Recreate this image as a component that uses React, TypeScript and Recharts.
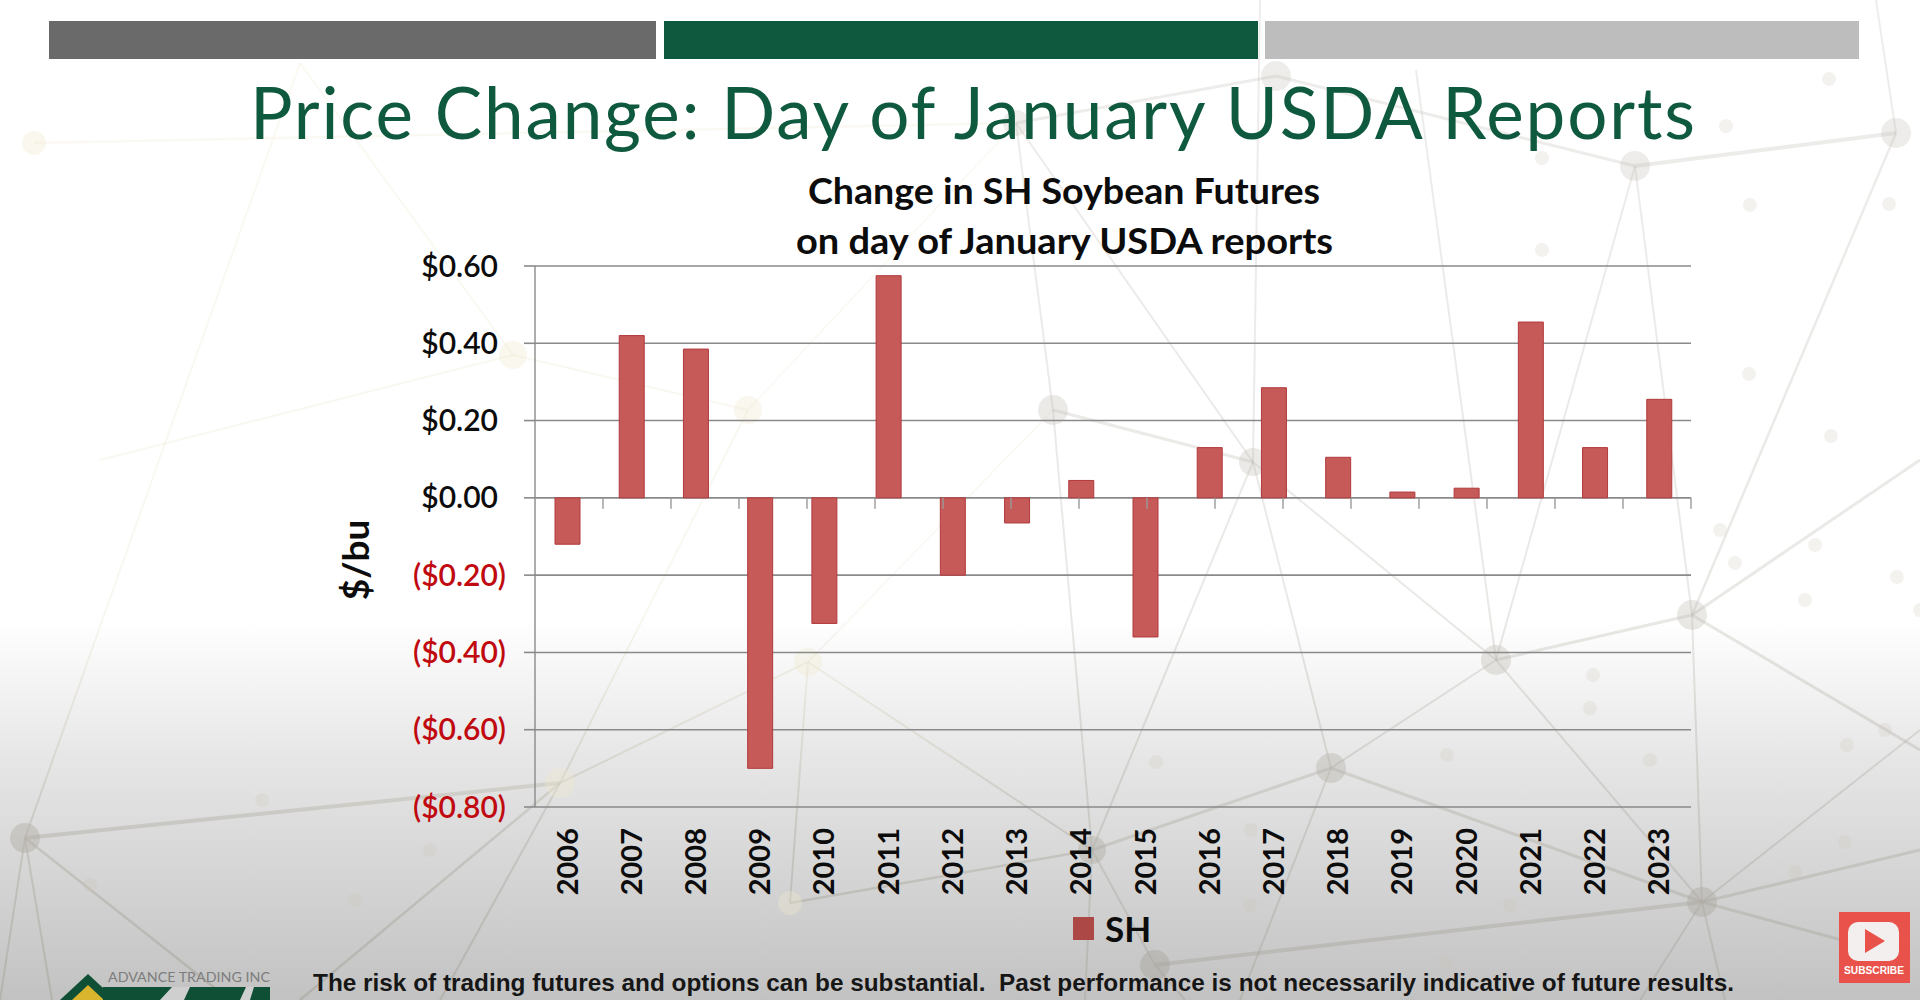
import { BarChart, Bar, XAxis, YAxis, CartesianGrid, Legend, ReferenceLine } from 'recharts';

const years = ['2006', '2007', '2008', '2009', '2010', '2011', '2012', '2013', '2014', '2015', '2016', '2017', '2018', '2019', '2020', '2021', '2022', '2023'];
const priceChange = [-0.12, 0.42, 0.385, -0.7, -0.325, 0.575, -0.2, -0.065, 0.045, -0.36, 0.13, 0.285, 0.105, 0.015, 0.025, 0.455, 0.13, 0.255];
const yTicks = [0.6, 0.4, 0.2, 0, -0.2, -0.4, -0.6, -0.8];
const categoryEdges = [1, 2, 3, 4, 5, 6, 7, 8, 9, 10, 11, 12, 13, 14, 15, 16, 17, 18];

const data = years.map((year, i) => ({ year, SH: priceChange[i] }));

// backdrop network: [x, y, radius]
const nodes = [
  [1635, 166, 15], [1896, 133, 15], [1276, 76, 15], [1016, 123, 13], [1053, 410, 15], [1253, 462, 14],
  [1692, 615, 15], [1496, 660, 15], [1331, 768, 15], [1702, 902, 15], [1155, 965, 15], [1092, 850, 14],
  [25, 838, 15],
];
const paleNodes = [
  [560, 783, 15], [808, 662, 14], [748, 410, 14], [513, 355, 14], [34, 143, 12], [790, 903, 12],
];
const edges = [
  [1635, 166, 1896, 133, 4], [1635, 166, 1496, 660, 2], [1635, 166, 1692, 615, 2], [1896, 133, 1692, 615, 2.5],
  [1896, 133, 1876, 0, 2], [1635, 166, 1276, 76, 3], [1276, 76, 1016, 123, 3], [1016, 123, 1053, 410, 2],
  [1016, 123, 1253, 462, 2], [1016, 123, 748, 410, 1.5], [1053, 410, 1253, 462, 3], [1053, 410, 808, 662, 1.5],
  [1053, 410, 1092, 850, 2], [1253, 462, 1331, 768, 2], [1253, 462, 1496, 660, 2], [1260, 0, 1253, 462, 2],
  [1253, 462, 1092, 850, 2], [1496, 660, 1692, 615, 3], [1496, 660, 1331, 768, 2], [1496, 660, 1702, 902, 2],
  [1416, 70, 1496, 660, 2], [1692, 615, 1702, 902, 2], [1692, 615, 1920, 750, 3], [1692, 615, 1920, 460, 3],
  [1702, 902, 1331, 768, 3], [1702, 902, 1155, 965, 4], [1702, 902, 1920, 730, 2], [1702, 902, 1920, 850, 3],
  [1702, 902, 1860, 945, 3], [1702, 902, 1640, 1000, 2], [1702, 902, 1725, 1000, 2], [1331, 768, 1092, 850, 3],
  [1331, 768, 1240, 1000, 2], [1092, 850, 1155, 965, 2], [1092, 850, 808, 662, 2], [1092, 850, 790, 903, 2.5],
  [1092, 850, 1085, 1000, 2], [1155, 965, 1185, 1000, 2], [25, 838, 560, 783, 4], [25, 838, 230, 1000, 2.5],
  [25, 838, 0, 1000, 2], [25, 838, 52, 1000, 2], [25, 838, 300, 63, 2], [560, 783, 808, 662, 2],
  [560, 783, 748, 410, 2], [560, 783, 300, 1000, 2.5], [560, 783, 440, 1000, 2], [513, 355, 748, 410, 2],
  [513, 355, 300, 63, 2], [34, 143, 1016, 123, 2.5], [513, 355, 100, 460, 2], [808, 662, 790, 903, 2],
];
const dots = [
  [1829, 79], [1726, 126], [1750, 205], [1889, 204], [1542, 250], [1542, 158], [1749, 374], [1831, 436],
  [1815, 545], [1735, 563], [1805, 600], [1897, 577], [1920, 610], [1885, 730], [1847, 745], [1593, 675],
  [1447, 755], [1251, 830], [1156, 762], [1446, 962], [1507, 1000], [1795, 872], [1650, 760], [1590, 708],
  [1250, 905], [1510, 905], [90, 885], [262, 800], [355, 900], [430, 850], [1845, 842], [1720, 530],
];

const fontBody = 'Lato, "Noto Sans", sans-serif';

function formatPrice(value: number) {
  const text = '$' + Math.abs(value).toFixed(2);
  return value < 0 ? '(' + text + ')' : text;
}

function PriceTick({ x, y, payload }: any) {
  const negative = payload.value < 0;
  return (
    <text
      x={x + (negative ? -16 : -24)}
      y={y}
      dy="0.35em"
      textAnchor="end"
      fontFamily={fontBody}
      fontSize={30}
      fontWeight={600}
      fill={negative ? '#c00a10' : '#0c0c0c'}
    >
      {formatPrice(payload.value)}
    </text>
  );
}

function YearTick({ x, y, payload }: any) {
  return (
    <text
      transform={`translate(${x},${y - 17}) rotate(-90)`}
      dy="0.36em"
      textAnchor="end"
      fontFamily={fontBody}
      fontSize={29}
      fontWeight={700}
      fill="#0c0c0c"
    >
      {payload.value}
    </text>
  );
}

function SeriesLegend() {
  return (
    <div style={{ display: 'flex', alignItems: 'center', fontFamily: fontBody, fontSize: 35, fontWeight: 700, color: '#0c0c0c' }}>
      <span style={{ width: 21, height: 23, background: '#ac4947', marginRight: 11 }} />
      <span>SH</span>
    </div>
  );
}

function Backdrop() {
  return (
    <svg width={1920} height={1000} style={{ position: 'absolute', left: 0, top: 0 }}>
      <defs>
        <linearGradient id="slideFade" x1="0" y1="0" x2="0" y2="1">
          <stop offset="0.62" stopColor="#ffffff" />
          <stop offset="0.76" stopColor="#e6e6e6" />
          <stop offset="1" stopColor="#c2c2c2" />
        </linearGradient>
        <linearGradient id="leftInk" gradientUnits="userSpaceOnUse" x1="0" y1="0" x2="0" y2="1000">
          <stop offset="0" stopColor="#e8e0b8" stopOpacity={0.18} />
          <stop offset="0.62" stopColor="#e0d9b8" stopOpacity={0.22} />
          <stop offset="0.82" stopColor="#b5b1a8" stopOpacity={0.48} />
          <stop offset="1" stopColor="#a9a69e" stopOpacity={0.6} />
        </linearGradient>
        <linearGradient id="rightInk" gradientUnits="userSpaceOnUse" x1="0" y1="0" x2="0" y2="1000">
          <stop offset="0" stopColor="#b9b5ac" stopOpacity={0.24} />
          <stop offset="0.6" stopColor="#b9b5ac" stopOpacity={0.3} />
          <stop offset="1" stopColor="#a9a69e" stopOpacity={0.5} />
        </linearGradient>
      </defs>
      <rect width={1920} height={1000} fill="url(#slideFade)" />
      {edges.map((e, i) => (
        <line key={i} x1={e[0]} y1={e[1]} x2={e[2]} y2={e[3]} strokeWidth={e[4]}
          stroke={(e[0] + e[2]) / 2 < 1000 ? 'url(#leftInk)' : 'url(#rightInk)'} />
      ))}
      {dots.map((d, i) => (
        <circle key={i} cx={d[0]} cy={d[1]} r={7} fill="#cbc6b8" fillOpacity={0.22} />
      ))}
      {nodes.map((n, i) => (
        <circle key={i} cx={n[0]} cy={n[1]} r={n[2]} fill={n[0] < 1000 ? 'url(#leftInk)' : 'url(#rightInk)'} />
      ))}
      {paleNodes.map((n, i) => (
        <circle key={i} cx={n[0]} cy={n[1]} r={n[2]} fill="#efe9cf" fillOpacity={0.35} />
      ))}

      <rect x={49} y={21} width={607} height={38} fill="#6a6a6a" />
      <rect x={664} y={21} width={594} height={38} fill="#0f5a3f" />
      <rect x={1265} y={21} width={594} height={38} fill="#bdbdbd" />

      <text x={250} y={139} fontFamily={fontBody} fontSize={71} fill="#0f5a3f" textLength={1445} lengthAdjust="spacing">
        Price Change: Day of January USDA Reports
      </text>
      <text x={808} y={204} fontFamily={fontBody} fontSize={36} fontWeight={700} fill="#0c0c0c" textLength={512} lengthAdjust="spacingAndGlyphs">
        Change in SH Soybean Futures
      </text>
      <text x={796} y={254} fontFamily={fontBody} fontSize={36} fontWeight={700} fill="#0c0c0c" textLength={537} lengthAdjust="spacingAndGlyphs">
        on day of January USDA reports
      </text>
      <text transform="translate(369,560) rotate(-90)" textAnchor="middle" fontFamily={fontBody} fontSize={37} fontWeight={700} fill="#0c0c0c">
        $/bu
      </text>
      <text x={313} y={991} fontFamily='"Liberation Sans", Arial, sans-serif' fontSize={24} fontWeight={700} fill="#161616"
        textLength={1421} lengthAdjust="spacingAndGlyphs" xmlSpace="preserve">
        The risk of trading futures and options can be substantial.  Past performance is not necessarily indicative of future results.
      </text>

      {/* logo, cut off by the bottom of the frame */}
      <path d="M88 974 L116 1000 L60 1000 Z" fill="#0f4f35" />
      <path d="M88 985 L104 1000 L72 1000 Z" fill="#d8b52c" />
      <rect x={103} y={987} width={167} height={13} fill="#0f4f35" />
      <path d="M160 1000 L172 987 L190 987 L184 1000 Z M240 1000 L246 987 L254 987 L250 1000 Z" fill="#cfcfcf" />
      <text x={108} y={982} fontFamily={fontBody} fontSize={13.5} fill="#7d7d7d" textLength={162} lengthAdjust="spacingAndGlyphs">
        ADVANCE TRADING INC
      </text>

      {/* subscribe badge */}
      <rect x={1839} y={912} width={71} height={71} fill="#e9524a" />
      <rect x={1848} y={922} width={51} height={39} rx={10} fill="#f2efee" />
      <path d="M1865 929 L1885 941 L1865 953 Z" fill="#e9524a" />
      <text x={1844} y={974} fontFamily='"Liberation Sans", Arial, sans-serif' fontSize={11} fontWeight={700} fill="#ffffff"
        textLength={60} lengthAdjust="spacingAndGlyphs">
        SUBSCRIBE
      </text>
    </svg>
  );
}

export default function App() {
  return (
    <div style={{ position: 'absolute', left: 0, top: 0, width: 1920, height: 1000, overflow: 'hidden' }}>
      <Backdrop />
      <div style={{ position: 'absolute', left: 0, top: 0 }}>
        <BarChart width={1920} height={1000} data={data} margin={{ top: 266, right: 229, bottom: 100, left: 435 }} barSize={25}>
          <CartesianGrid vertical={false} stroke="#8a8a8a" strokeWidth={1.6} />
          <XAxis xAxisId="years" dataKey="year" interval={0} height={93} tick={<YearTick />} tickLine={false} axisLine={false} />
          <XAxis xAxisId="edges" type="number" domain={[0, 18]} hide />
          <YAxis
            type="number"
            domain={[-0.8, 0.6]}
            ticks={yTicks}
            width={100}
            interval={0}
            tick={<PriceTick />}
            tickSize={11}
            tickMargin={2}
            tickLine={{ stroke: '#8a8a8a', strokeWidth: 1.6 }}
            axisLine={{ stroke: '#8a8a8a', strokeWidth: 1.4 }}
          />
          {categoryEdges.map(edge => (
            <ReferenceLine
              key={edge}
              xAxisId="edges"
              segment={[{ x: edge, y: 0 }, { x: edge, y: -0.028 }]}
              stroke="#9a9a9a"
              strokeWidth={1.4}
            />
          ))}
          <Legend content={<SeriesLegend />} verticalAlign="middle" wrapperStyle={{ left: 1073, top: 907, width: 100 }} />
          <Bar xAxisId="years" dataKey="SH" name="SH" fill="#c55a58" stroke="#b23a3e" strokeWidth={1} isAnimationActive={false} />
        </BarChart>
      </div>
    </div>
  );
}
